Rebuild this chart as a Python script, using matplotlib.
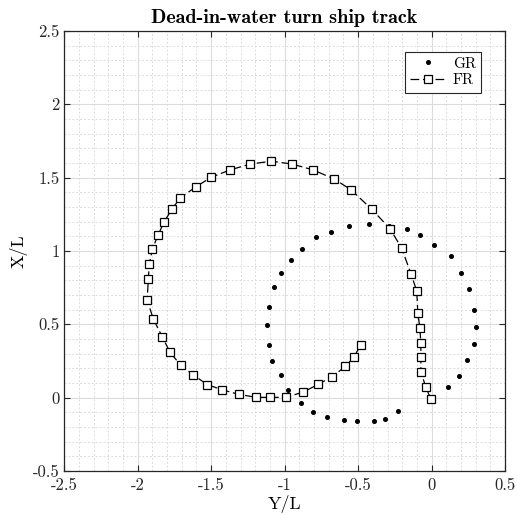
import matplotlib
matplotlib.use("Agg")
import matplotlib.pyplot as plt
from matplotlib.ticker import MultipleLocator


""" Track data (Y/L horizontal, X/L vertical) """
gr_yl = [0.0, 0.110, 0.189, 0.241, 0.291, 0.301, 0.291, 0.255, 0.203, 0.131, 0.019,
         -0.078, -0.167, -0.289, -0.427, -0.561, -0.684, -0.788, -0.883, -0.954, -1.024,
         -1.073, -1.105, -1.117, -1.107, -1.087, -1.024, -0.974, -0.890, -0.806, -0.709,
         -0.595, -0.507, -0.393, -0.314, -0.230]
gr_xl = [0.0, 0.070, 0.150, 0.257, 0.363, 0.479, 0.597, 0.738, 0.847, 0.963, 1.042,
         1.106, 1.151, 1.167, 1.181, 1.172, 1.129, 1.095, 1.010, 0.938, 0.852,
         0.751, 0.618, 0.495, 0.361, 0.252, 0.155, 0.054, -0.034, -0.097, -0.131,
         -0.152, -0.161, -0.161, -0.143, -0.091]

fr_yl = [-0.005, -0.039, -0.073, -0.073, -0.073, -0.080, -0.094, -0.101, -0.139, -0.203,
         -0.284, -0.407, -0.546, -0.661, -0.808, -0.947, -1.090, -1.235, -1.369, -1.498,
         -1.604, -1.709, -1.767, -1.820, -1.861, -1.899, -1.920, -1.927, -1.935, -1.893,
         -1.833, -1.779, -1.706, -1.620, -1.527, -1.425, -1.310, -1.192, -1.099, -0.990,
         -0.872, -0.770, -0.677, -0.586, -0.529, -0.482]
fr_xl = [-0.010, 0.070, 0.178, 0.279, 0.373, 0.477, 0.577, 0.727, 0.840, 1.018,
         1.153, 1.284, 1.415, 1.490, 1.553, 1.592, 1.612, 1.592, 1.553, 1.503,
         1.437, 1.362, 1.285, 1.197, 1.108, 1.015, 0.913, 0.811, 0.664, 0.536,
         0.416, 0.309, 0.220, 0.155, 0.089, 0.054, 0.022, 0.002, 0.002, 0.002,
         0.039, 0.091, 0.143, 0.213, 0.277, 0.359]

x_ticks = [-2.5, -2, -1.5, -1, -0.5, 0, 0.5]
x_ticklabels = ['-2.5', '-2', '-1.5', '-1', '-0.5', '0', '0.5']
y_ticks = [-0.5, 0, 0.5, 1, 1.5, 2, 2.5]
y_ticklabels = ['-0.5', '0', '0.5', '1', '1.5', '2', '2.5']


""" Style """
plt.rcParams['font.family'] = ['cmr10', 'DejaVu Serif']
plt.rcParams['axes.unicode_minus'] = False
plt.rcParams['axes.formatter.use_mathtext'] = True

fig = plt.figure(figsize=(5.17, 5.15), dpi=100)
ax = fig.add_axes([0.124, 0.0854, 0.853, 0.8546])

ax.plot(gr_yl, gr_xl, linestyle='none', marker='o', markersize=2.6,
        color='black', label='GR', zorder=3)
ax.plot(fr_yl, fr_xl, linestyle=(0, (7, 3)), linewidth=0.9, color='black',
        marker='s', markersize=6, markerfacecolor='white', markeredgecolor='black',
        markeredgewidth=0.9, label='FR', zorder=4)

ax.set_xlim(-2.5, 0.5)
ax.set_ylim(-0.5, 2.5)
ax.set_xticks(x_ticks)
ax.set_xticklabels(x_ticklabels)
ax.set_yticks(y_ticks)
ax.set_yticklabels(y_ticklabels)
ax.xaxis.set_minor_locator(MultipleLocator(0.1))
ax.yaxis.set_minor_locator(MultipleLocator(0.1))

ax.grid(which='major', color='#dcdcdc', linewidth=0.8, linestyle='-')
ax.grid(which='minor', color='#dcdcdc', linewidth=0.7, linestyle=(0, (2, 2)))
ax.set_axisbelow(True)

ax.tick_params(which='major', direction='in', top=True, right=True, length=4,
               width=0.8, labelsize=12, colors='#262626', pad=3)
ax.tick_params(axis='x', which='major', pad=5)
ax.tick_params(which='minor', length=0)
for s in ax.spines.values():
    s.set_color('#262626')
    s.set_linewidth(0.9)

ax.set_xlabel('Y/L', fontsize=13, labelpad=1)
ax.set_ylabel('X/L', fontsize=13, labelpad=4)
ax.set_title('Dead-in-water turn ship track', fontsize=14.5, fontfamily='cmb10', pad=6)

leg = ax.legend(loc='upper right', bbox_to_anchor=(0.946, 0.953), borderaxespad=0,
                fontsize=11, frameon=True, fancybox=False, edgecolor='#262626',
                framealpha=1, borderpad=0.35, handlelength=2.4, handletextpad=0.4,
                labelspacing=0.2, markerfirst=True)
leg.get_frame().set_linewidth(0.8)

fig.savefig('out.png', dpi=100)
